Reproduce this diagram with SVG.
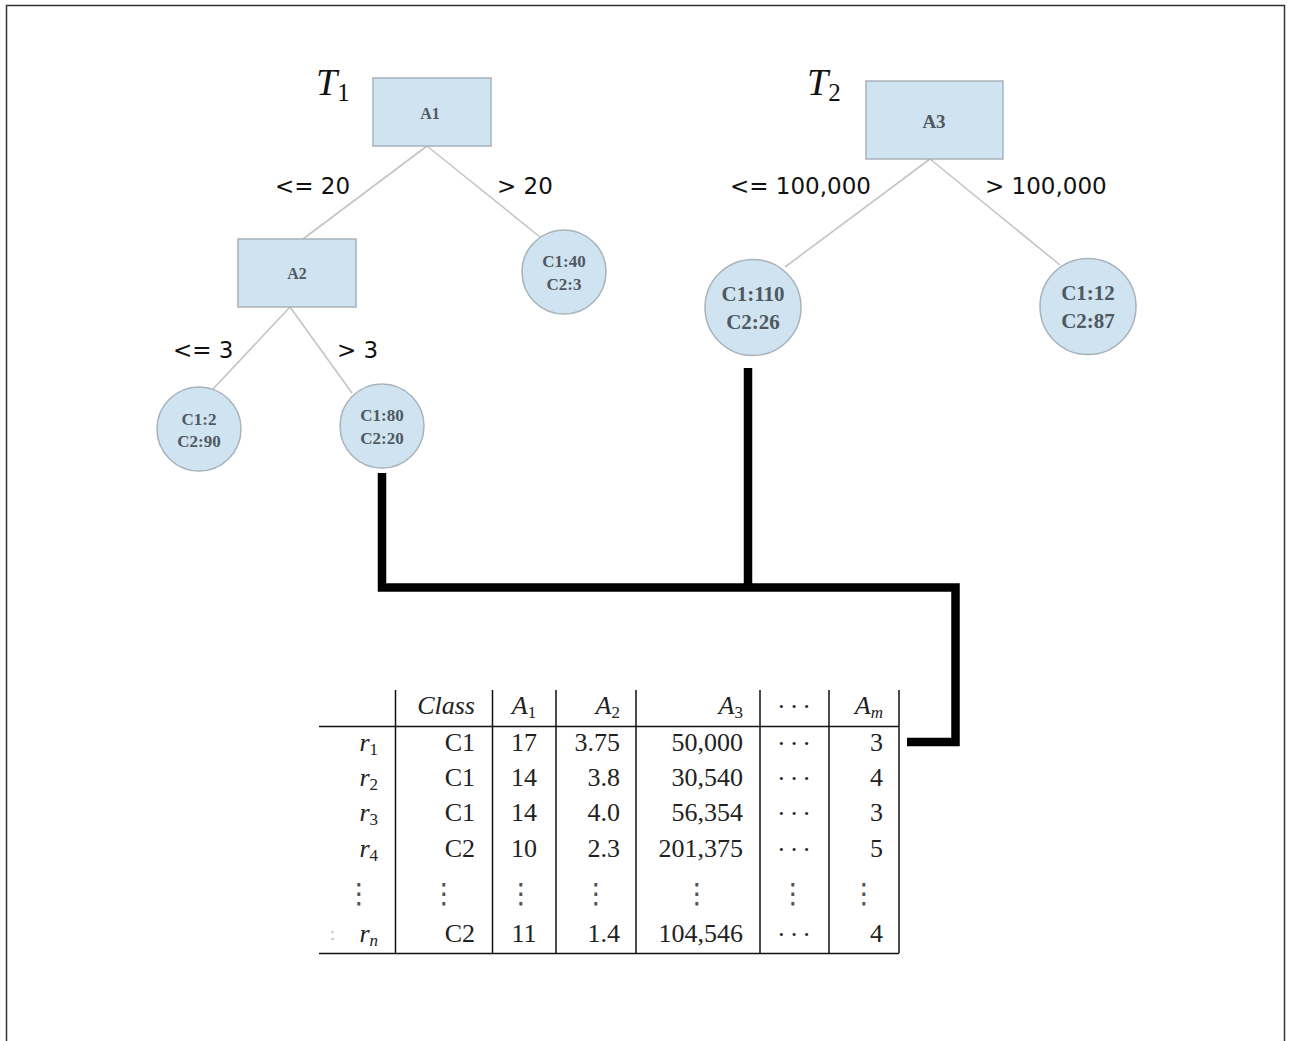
<svg xmlns="http://www.w3.org/2000/svg" width="1289" height="1041" viewBox="0 0 1289 1041">
<style>
.box{fill:#cfe3f1;stroke:#a8b3ba;stroke-width:1.5}
.leaf{fill:#cfe3f1;stroke:#a8b3ba;stroke-width:1.5}
.edge{stroke:#c4c4c4;stroke-width:1.6;fill:none}
.thick{stroke:#000;stroke-width:8.5;fill:none;stroke-linejoin:miter;stroke-linecap:butt}
.nt{font-family:"Liberation Serif",serif;font-weight:bold;fill:#505860;text-anchor:middle}
.lbl{font-family:"DejaVu Sans",sans-serif;font-size:23px;fill:#111}
.tl{font-family:"Liberation Serif",serif;font-style:italic;font-size:38px;fill:#111}
.tt{font-family:"Liberation Serif",serif;font-size:26px;fill:#222}
.it{font-style:italic}
.r{text-anchor:end}
.m{text-anchor:middle}
.rule{stroke:#111;stroke-width:1.5;fill:none}
.vd{font-family:"DejaVu Sans",sans-serif;font-size:28px;fill:#555;text-anchor:middle}
</style>
<path d="M6.5 1041 V5.5 H1284.5 V1041" fill="none" stroke="#333" stroke-width="1.5"/>
<g id="connectors">
<line class="edge" x1="427" y1="146" x2="303" y2="239"/>
<line class="edge" x1="427" y1="146" x2="540" y2="237"/>
<line class="edge" x1="290" y1="307" x2="213" y2="389"/>
<line class="edge" x1="290" y1="307" x2="352" y2="393"/>
<line class="edge" x1="930" y1="159" x2="785" y2="267"/>
<line class="edge" x1="930" y1="159" x2="1060" y2="265"/>
<path class="thick" d="M382 473 V587.5 H955.5 V742 H907"/>
<path class="thick" d="M748 368 V587.5"/>
</g>
<g id="edge-labels">
<text class="lbl" x="275" y="194">&lt;= 20</text>
<text class="lbl" x="497" y="194">&gt; 20</text>
<text class="lbl" x="173" y="358">&lt;= 3</text>
<text class="lbl" x="337" y="358">&gt; 3</text>
<text class="lbl" x="730" y="194">&lt;= 100,000</text>
<text class="lbl" x="985" y="194">&gt; 100,000</text>
</g>
<g id="T1-label"><text class="tl" x="316" y="95">T<tspan font-style="normal" font-size="25" dy="6">1</tspan></text></g>
<g id="T2-label"><text class="tl" x="807" y="95">T<tspan font-style="normal" font-size="25" dy="6">2</tspan></text></g>
<g id="A1"><rect class="box" x="373" y="78" width="118" height="68"/><text class="nt" x="430" y="119" font-size="16">A1</text></g>
<g id="A2"><rect class="box" x="238" y="239" width="118" height="68"/><text class="nt" x="297" y="279" font-size="16">A2</text></g>
<g id="A3"><rect class="box" x="866" y="81" width="137" height="78"/><text class="nt" x="934" y="128" font-size="19">A3</text></g>
<g id="L40"><circle class="leaf" cx="564" cy="272" r="42"/><text class="nt" x="564" y="267" font-size="17">C1:40</text><text class="nt" x="564" y="290" font-size="17">C2:3</text></g>
<g id="L2"><circle class="leaf" cx="199" cy="429" r="42"/><text class="nt" x="199" y="425" font-size="17">C1:2</text><text class="nt" x="199" y="447" font-size="17">C2:90</text></g>
<g id="L80"><circle class="leaf" cx="382" cy="426" r="42"/><text class="nt" x="382" y="421" font-size="17">C1:80</text><text class="nt" x="382" y="444" font-size="17">C2:20</text></g>
<g id="L110"><circle class="leaf" cx="753" cy="307.5" r="48"/><text class="nt" x="753" y="301" font-size="21">C1:110</text><text class="nt" x="753" y="329" font-size="21">C2:26</text></g>
<g id="L12"><circle class="leaf" cx="1088" cy="306.5" r="48"/><text class="nt" x="1088" y="300" font-size="21">C1:12</text><text class="nt" x="1088" y="328" font-size="21">C2:87</text></g>
<g id="table">
<line class="rule" x1="319" y1="726.5" x2="899" y2="726.5"/>
<line class="rule" x1="319" y1="953.5" x2="899" y2="953.5"/>
<line class="rule" x1="395.5" y1="690" x2="395.5" y2="953"/>
<line class="rule" x1="492.5" y1="690" x2="492.5" y2="953"/>
<line class="rule" x1="556" y1="690" x2="556" y2="953"/>
<line class="rule" x1="636" y1="690" x2="636" y2="953"/>
<line class="rule" x1="760" y1="690" x2="760" y2="953"/>
<line class="rule" x1="829" y1="690" x2="829" y2="953"/>
<line class="rule" x1="899" y1="690" x2="899" y2="953"/>
<g class="tt">
<text class="r it" x="475" y="714">Class</text>
<text class="m" x="524" y="714"><tspan class="it">A</tspan><tspan font-size="17" dy="4">1</tspan></text>
<text class="r" x="620" y="714"><tspan class="it">A</tspan><tspan font-size="17" dy="4">2</tspan></text>
<text class="r" x="743" y="714"><tspan class="it">A</tspan><tspan font-size="17" dy="4">3</tspan></text>
<text class="m" x="796" y="715" letter-spacing="4">···</text>
<text class="r" x="883" y="714"><tspan class="it">A</tspan><tspan font-size="17" dy="4" class="it">m</tspan></text>

<text class="r" x="378" y="751"><tspan class="it">r</tspan><tspan font-size="17" dy="4">1</tspan></text>
<text class="r" x="475" y="751">C1</text><text class="m" x="524" y="751">17</text><text class="r" x="620" y="751">3.75</text><text class="r" x="743" y="751">50,000</text><text class="m" x="796" y="752" letter-spacing="4">···</text><text class="r" x="883" y="751">3</text>

<text class="r" x="378" y="786"><tspan class="it">r</tspan><tspan font-size="17" dy="4">2</tspan></text>
<text class="r" x="475" y="786">C1</text><text class="m" x="524" y="786">14</text><text class="r" x="620" y="786">3.8</text><text class="r" x="743" y="786">30,540</text><text class="m" x="796" y="787" letter-spacing="4">···</text><text class="r" x="883" y="786">4</text>

<text class="r" x="378" y="821"><tspan class="it">r</tspan><tspan font-size="17" dy="4">3</tspan></text>
<text class="r" x="475" y="821">C1</text><text class="m" x="524" y="821">14</text><text class="r" x="620" y="821">4.0</text><text class="r" x="743" y="821">56,354</text><text class="m" x="796" y="822" letter-spacing="4">···</text><text class="r" x="883" y="821">3</text>

<text class="r" x="378" y="857"><tspan class="it">r</tspan><tspan font-size="17" dy="4">4</tspan></text>
<text class="r" x="475" y="857">C2</text><text class="m" x="524" y="857">10</text><text class="r" x="620" y="857">2.3</text><text class="r" x="743" y="857">201,375</text><text class="m" x="796" y="858" letter-spacing="4">···</text><text class="r" x="883" y="857">5</text>

<text x="330" y="940" font-size="18" fill="#bbb">:</text>
<text class="r" x="378" y="942"><tspan class="it">r</tspan><tspan font-size="17" dy="4" class="it">n</tspan></text>
<text class="r" x="475" y="942">C2</text><text class="m" x="524" y="942">11</text><text class="r" x="620" y="942">1.4</text><text class="r" x="743" y="942">104,546</text><text class="m" x="796" y="943" letter-spacing="4">···</text><text class="r" x="883" y="942">4</text>
</g>
<g class="vd">
<text x="359" y="903">⋮</text><text x="444" y="903">⋮</text><text x="521" y="903">⋮</text><text x="596" y="903">⋮</text><text x="697" y="903">⋮</text><text x="793" y="903">⋮</text><text x="864" y="903">⋮</text>
</g>
</g>
</svg>
